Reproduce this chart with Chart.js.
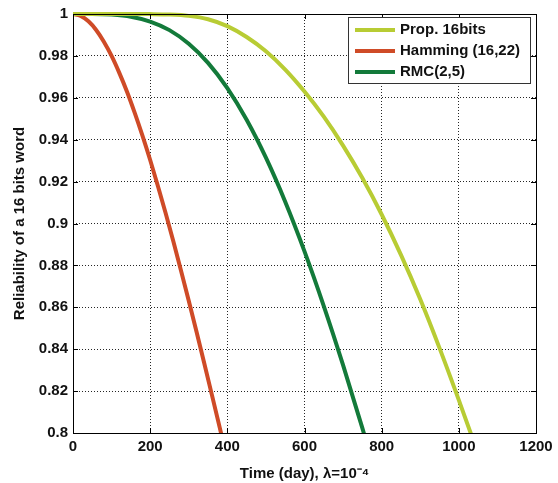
<!DOCTYPE html>
<html>
<head>
<meta charset="utf-8">
<script src="https://cdn.jsdelivr.net/npm/chart.js@4"></script>
<style>
html,body{margin:0;padding:0;background:#fff;}
canvas{display:block;}
</style>
</head>
<body>
<canvas id="c" width="558" height="483"></canvas>
<script>
// ---- data ----
const seriesLabels = ['Prop. 16bits', 'Hamming (16,22)', 'RMC(2,5)'];

const propDays = [0, 50, 100, 150, 200, 250, 300, 350, 400, 450, 500, 550, 600, 650, 700, 750, 800, 850, 900, 950, 1000, 1050];
const propRel  = [1, 1, 1, 1, 0.99995, 0.99975, 0.9991, 0.9975, 0.9942, 0.9890, 0.9822, 0.9735, 0.9630, 0.9510, 0.9372, 0.9217, 0.9043, 0.8850, 0.8638, 0.8405, 0.8157, 0.7900];

const hamDays = [0, 20, 40, 60, 80, 100, 120, 140, 160, 180, 200, 220, 240, 260, 280, 300, 320, 340, 360, 380, 400];
const hamRel  = [1, 0.9991, 0.9965, 0.9924, 0.9868, 0.9800, 0.9719, 0.9629, 0.9528, 0.9419, 0.9303, 0.9179, 0.9050, 0.8915, 0.8775, 0.8631, 0.8484, 0.8334, 0.8182, 0.8028, 0.7872];

const rmcDays = [0, 50, 100, 150, 200, 250, 300, 350, 400, 450, 500, 550, 600, 650, 700, 750, 800];
const rmcRel  = [1, 1.0, 0.9997, 0.9987, 0.9964, 0.9923, 0.9858, 0.9767, 0.9646, 0.9495, 0.9314, 0.9104, 0.8867, 0.8606, 0.8324, 0.8023, 0.7708];

const xTicks = [0, 200, 400, 600, 800, 1000, 1200];
const yTicks = [0.8, 0.82, 0.84, 0.86, 0.88, 0.9, 0.92, 0.94, 0.96, 0.98, 1];
const xTitle = 'Time (day), \u03bb=10\u207b\u2074';
const yTitle = 'Reliability of a 16 bits word';

const colors = ['#b8cc34', '#cf4b27', '#137a3a'];

function pts(xs, ys) { return xs.map((v, i) => ({x: v, y: ys[i]})); }

const FONT = 'Liberation Sans, Arial, sans-serif';

const matlabPlugin = {
  id: 'matlab',
  afterDatasetsDraw(chart) {
    const {ctx, chartArea: a, scales: {x, y}} = chart;
    ctx.save();
    ctx.strokeStyle = '#000';
    ctx.lineWidth = 1;
    const line = (x1, y1, x2, y2) => { ctx.beginPath(); ctx.moveTo(x1, y1); ctx.lineTo(x2, y2); ctx.stroke(); };
    x.ticks.forEach(t => {
      const px = Math.round(x.getPixelForValue(t.value)) + 0.5;
      line(px, a.bottom, px, a.bottom - 5);
      line(px, a.top, px, a.top + 5);
    });
    y.ticks.forEach(t => {
      const py = Math.round(y.getPixelForValue(t.value)) + 0.5;
      line(a.left, py, a.left + 5, py);
      line(a.right, py, a.right - 5, py);
    });
    ctx.strokeRect(Math.round(a.left) + 0.5, Math.round(a.top) + 0.5, Math.round(a.right - a.left), Math.round(a.bottom - a.top));

    // legend box (inside, north-east)
    const bx = 348, by = 17, bw = 182, bh = 66;
    ctx.fillStyle = '#fff';
    ctx.fillRect(bx, by, bw, bh);
    ctx.strokeStyle = '#333';
    ctx.lineWidth = 1;
    ctx.strokeRect(bx + 0.5, by + 0.5, bw, bh);
    ctx.font = 'bold 15px ' + FONT;
    ctx.textBaseline = 'middle';
    ctx.textAlign = 'left';
    chart.data.datasets.forEach((ds, i) => {
      const ry = by + 13 + i * 21;
      ctx.strokeStyle = ds.borderColor;
      ctx.lineWidth = 4;
      line(bx + 7, ry, bx + 47, ry);
      ctx.fillStyle = '#111';
      ctx.fillText(ds.label, bx + 52, ry);
    });
    ctx.restore();
  }
};

new Chart(document.getElementById('c'), {
  type: 'line',
  data: {
    datasets: [
      {label: seriesLabels[0], data: pts(propDays, propRel), borderColor: colors[0]},
      {label: seriesLabels[1], data: pts(hamDays, hamRel), borderColor: colors[1]},
      {label: seriesLabels[2], data: pts(rmcDays, rmcRel), borderColor: colors[2]}
    ].map(d => Object.assign(d, {borderWidth: 4, pointRadius: 0, fill: false, cubicInterpolationMode: 'monotone', clip: {left: 0, top: 2, right: 0, bottom: 0}}))
  },
  options: {
    responsive: false,
    animation: false,
    layout: {padding: {top: 12, right: 22, left: 0, bottom: 0}},
    plugins: {legend: {display: false}, tooltip: {enabled: false}},
    scales: {
      x: {
        type: 'linear', min: 0, max: 1200,
        afterBuildTicks: s => { s.ticks = xTicks.map(v => ({value: v})); },
        afterFit: s => { s.height = 50; },
        grid: {color: 'rgba(0,0,0,0.85)', drawTicks: false, lineWidth: 1},
        border: {display: false, dash: [1, 2]},
        ticks: {color: '#111', font: {family: FONT, size: 15, weight: 'bold'}, padding: 5, maxRotation: 0,
          callback: v => String(v)},
        title: {display: true, text: xTitle, color: '#111', font: {family: FONT, size: 15, weight: 'bold'}, padding: {top: 3, bottom: 0}}
      },
      y: {
        type: 'linear', min: 0.8, max: 1,
        afterBuildTicks: s => { s.ticks = yTicks.map(v => ({value: v})); },
        afterFit: s => { s.width = 73; },
        grid: {color: 'rgba(0,0,0,0.85)', drawTicks: false, lineWidth: 1},
        border: {display: false, dash: [1, 2]},
        ticks: {color: '#111', font: {family: FONT, size: 15, weight: 'bold'}, padding: 5,
          callback: v => String(Number(v.toFixed(2)))},
        title: {display: true, text: yTitle, color: '#111', font: {family: FONT, size: 15, weight: 'bold'}, padding: {top: 11, bottom: 0}}
      }
    }
  },
  plugins: [matlabPlugin]
});
</script>
</body>
</html>
